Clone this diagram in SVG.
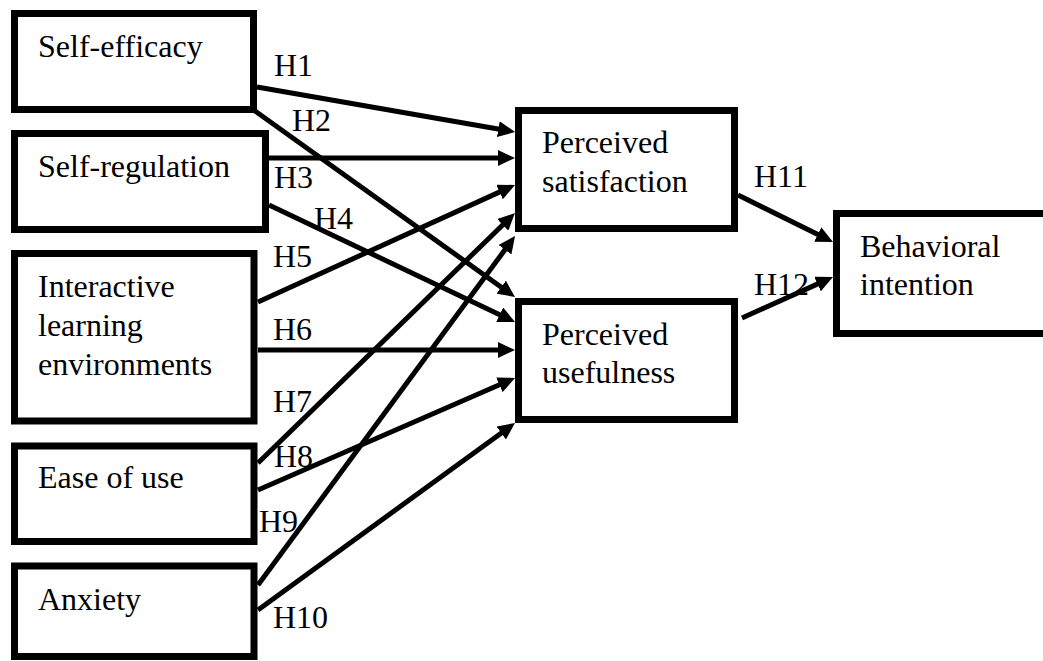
<svg xmlns="http://www.w3.org/2000/svg" width="1043" height="661" viewBox="0 0 1043 661">
<style>
.box{fill:#fff;stroke:#000;stroke-width:7}
text{font-family:'Liberation Serif',Tinos,'Times New Roman','DejaVu Serif',serif;font-size:32px;fill:#000}
.c{stroke:#000;stroke-width:5;fill:none;marker-end:url(#ah)}
</style>
<defs>
<marker id="ah" markerUnits="userSpaceOnUse" markerWidth="17" markerHeight="16" refX="7" refY="8" orient="auto">
<path d="M0,0 L17,8 L0,16 z" fill="#000"/>
</marker>
</defs>
<rect width="1043" height="661" fill="#fff"/>
<g id="connectors">
<line class="c" x1="257" y1="87" x2="505.2" y2="130.3"/>
<line class="c" x1="255" y1="111" x2="506.9" y2="291.2"/>
<line class="c" x1="269" y1="158" x2="505" y2="158"/>
<line class="c" x1="269" y1="205" x2="506" y2="317.7"/>
<line class="c" x1="258" y1="302" x2="505.9" y2="189.1"/>
<line class="c" x1="258" y1="350" x2="505" y2="350"/>
<line class="c" x1="258" y1="463" x2="507.8" y2="220"/>
<line class="c" x1="258" y1="490" x2="505.8" y2="382"/>
<line class="c" x1="258" y1="585" x2="509.1" y2="244.1"/>
<line class="c" x1="258" y1="610" x2="506.9" y2="428.9"/>
<line class="c" x1="738" y1="195" x2="824" y2="237.6"/>
<line class="c" x1="742" y1="318" x2="823.9" y2="281.1"/>
</g>
<g id="labels">
<text x="274" y="76" font-family="Liberation Serif, serif">H1</text>
<text x="292" y="131" font-family="Liberation Serif, serif">H2</text>
<text x="274" y="188" font-family="Liberation Serif, serif">H3</text>
<text x="314" y="229" font-family="Liberation Serif, serif">H4</text>
<text x="273" y="267" font-family="Liberation Serif, serif">H5</text>
<text x="273" y="340" font-family="Liberation Serif, serif">H6</text>
<text x="273" y="412" font-family="Liberation Serif, serif">H7</text>
<text x="274" y="467" font-family="Liberation Serif, serif">H8</text>
<text x="259" y="532" font-family="Liberation Serif, serif">H9</text>
<text x="273" y="628" font-family="Liberation Serif, serif">H10</text>
<text x="754" y="187" font-family="Liberation Serif, serif">H11</text>
<text x="754" y="295" font-family="Liberation Serif, serif">H12</text>
</g>
<g id="self-efficacy">
<rect class="box" x="14.5" y="13.5" width="239" height="96"/>
<text x="38" y="57">Self-efficacy</text>
</g>
<g id="self-regulation">
<rect class="box" x="14.5" y="133.5" width="251" height="96"/>
<text x="38" y="177">Self-regulation</text>
</g>
<g id="interactive">
<rect class="box" x="14.5" y="253.5" width="239.5" height="167.5"/>
<text x="38" y="297">Interactive</text>
<text x="38" y="336">learning</text>
<text x="38" y="375">environments</text>
</g>
<g id="ease-of-use">
<rect class="box" x="14.5" y="446" width="239.5" height="95.5"/>
<text x="38" y="488">Ease of use</text>
</g>
<g id="anxiety">
<rect class="box" x="14.5" y="566" width="239.5" height="90.5"/>
<text x="38" y="610">Anxiety</text>
</g>
<g id="perceived-satisfaction">
<rect class="box" x="518.5" y="110.5" width="216" height="118"/>
<text x="542" y="153">Perceived</text>
<text x="542" y="192">satisfaction</text>
</g>
<g id="perceived-usefulness">
<rect class="box" x="518.5" y="301.5" width="216" height="118"/>
<text x="542" y="345">Perceived</text>
<text x="542" y="383">usefulness</text>
</g>
<g id="behavioral-intention">
<rect class="box" x="836.5" y="213.5" width="220" height="120"/>
<text x="860" y="257">Behavioral</text>
<text x="860" y="295">intention</text>
</g>
</svg>
